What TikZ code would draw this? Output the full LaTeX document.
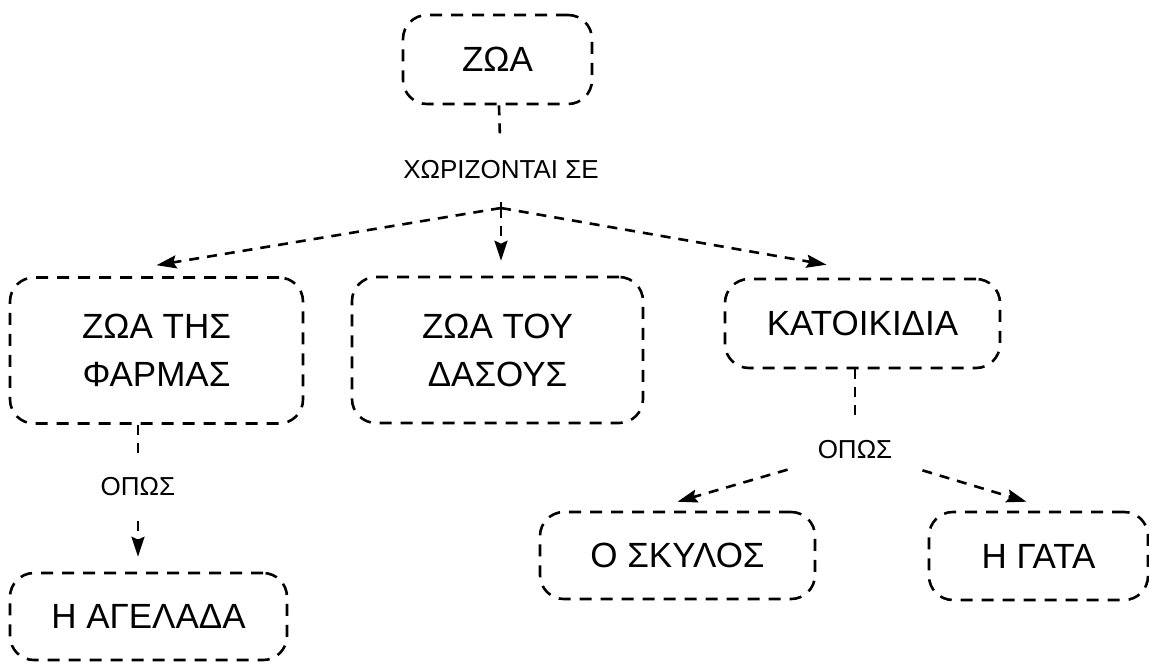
\documentclass[tikz,border=0pt]{standalone}
\usepackage{fontspec}
\setmainfont{Liberation Sans}
\usetikzlibrary{positioning,calc,arrows.meta}

\begin{document}
\begin{tikzpicture}[x=1pt,y=-1pt,
		box/.style={draw,rounded corners=24pt,line width=2.6pt,dash pattern=on 12pt off 9pt,inner sep=0pt,align=center,font=\fontsize{35}{48}\selectfont},
		link/.style={line width=2.6pt,dash pattern=on 10pt off 8pt},
		arr/.style={link,-{Stealth[length=20pt,width=13pt,inset=3pt]}},
		word/.style={inner xsep=30pt,inner ysep=23pt,font=\fontsize{26}{30}\selectfont}]
		\useasboundingbox (0,0) rectangle (1149,662);
		\node[box,minimum width=189pt,minimum height=89pt] (zoa) at (497.5,59.5) {ΖΩΑ};
		\node[box,minimum width=293pt,minimum height=146pt] (farm) at (156.5,350.5) {ΖΩΑ ΤΗΣ\\ΦΑΡΜΑΣ};
		\node[box,minimum width=291pt,minimum height=146pt] (forest) at (497.5,350) {ΖΩΑ ΤΟΥ\\ΔΑΣΟΥΣ};
		\node[box,minimum width=275pt,minimum height=89pt] (pets) at (862.5,323.5) {ΚΑΤΟΙΚΙΔΙΑ};
		\node[box,minimum width=277pt,minimum height=87pt] (cow) at (148.5,616.5) {Η ΑΓΕΛΑΔΑ};
		\node[box,minimum width=275pt,minimum height=87pt] (dog) at (677.5,555.5) {Ο ΣΚΥΛΟΣ};
		\node[box,minimum width=219pt,minimum height=88pt] (cat) at (1038.5,556) {Η ΓΑΤΑ};
		\node[word] (split) at (501,170) {ΧΩΡΙΖΟΝΤΑΙ ΣΕ};
		\node[word,inner ysep=25pt] (such1) at (138,487) {ΟΠΩΣ};
		\node[word,inner ysep=21pt] (such2) at (855,450) {ΟΠΩΣ};
		\coordinate (fork) at (501,208);
		\draw[link] (zoa) -- (split);
		\draw[link] (split) -- (fork);
		\draw[arr] (fork) -- ([yshift=11pt]farm.north);
		\draw[arr,shorten >=15pt] (fork) -- (fork |- forest.north);
		\draw[arr] (fork) -- ([xshift=-36pt,yshift=13pt]pets.north);
		\draw[link] (such1 |- farm.south) -- (such1);
		\draw[arr,shorten >=15pt] (such1) -- (such1 |- cow.north);
		\draw[link] (such2 |- pets.south) -- (such2);
		\draw[arr] (such2) -- ([yshift=9pt]dog.north);
		\draw[arr] (such2) -- ([xshift=-12pt,yshift=9pt]cat.north);
\end{tikzpicture}
\end{document}
